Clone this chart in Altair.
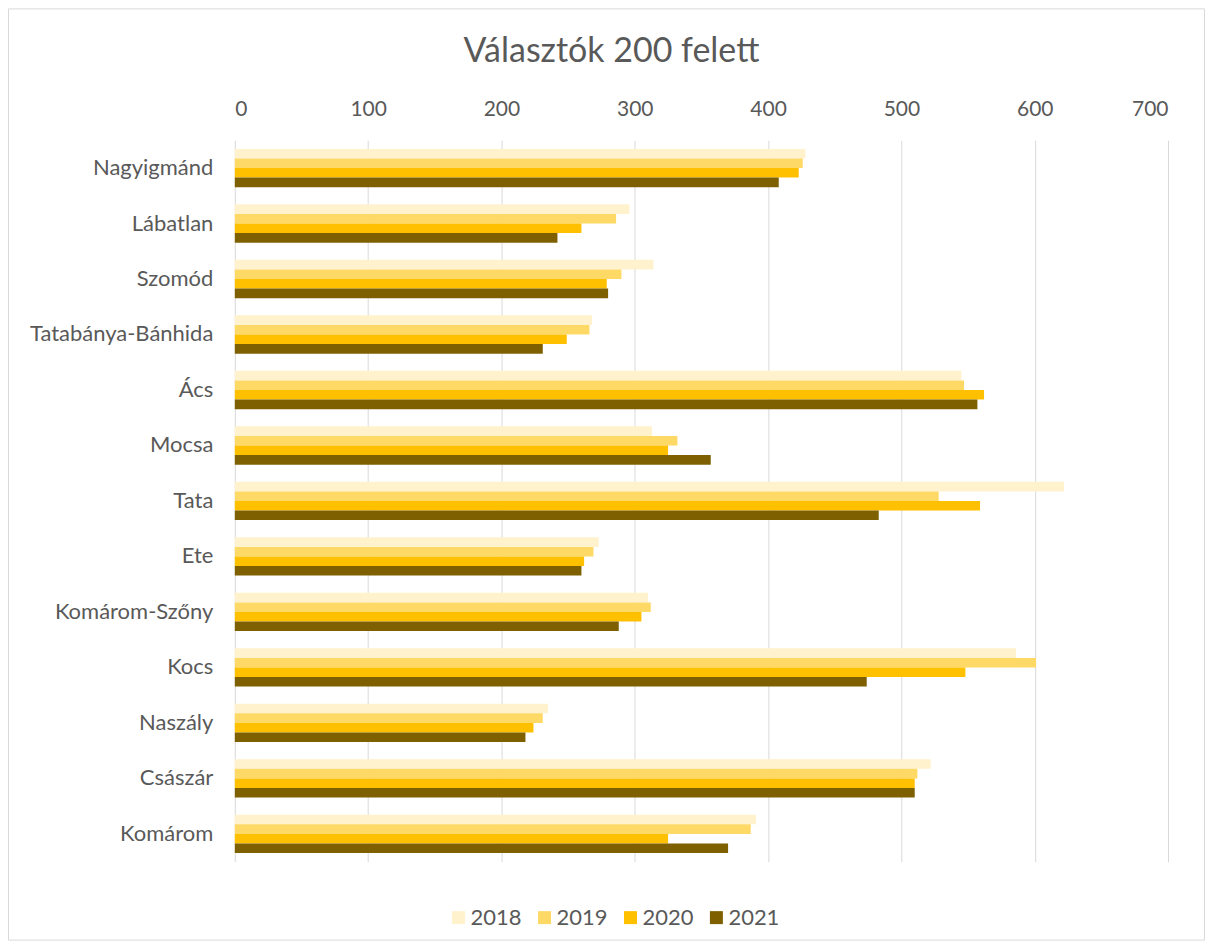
import altair as alt
import pandas as pd

categories = ["Nagyigmánd", "Lábatlan", "Szomód", "Tatabánya-Bánhida", "Ács", "Mocsa",
              "Tata", "Ete", "Komárom-Szőny", "Kocs", "Naszály", "Császár", "Komárom"]
years = ["2018", "2019", "2020", "2021"]
v2018 = [428, 296, 314, 268, 545, 313, 622, 273, 310, 586, 235, 522, 391]
v2019 = [426, 286, 290, 266, 547, 332, 528, 269, 312, 601, 231, 512, 387]
v2020 = [423, 260, 279, 249, 562, 325, 559, 262, 305, 548, 224, 510, 325]
v2021 = [408, 242, 280, 231, 557, 357, 483, 260, 288, 474, 218, 510, 370]
colors = ["#FFF2CC", "#FFD966", "#FFC000", "#7F6000"]
x_ticks = [0, 100, 200, 300, 400, 500, 600, 700]
title_text = ["Választók 200 felett"]

rows = []
for yr, vals in zip(years, [v2018, v2019, v2020, v2021]):
    for c, v in zip(categories, vals):
        rows.append({"Település": c, "Év": yr, "Választók": v})
df = pd.DataFrame(rows)

FONT = "Lato"
TXT = "#595959"

bars = alt.Chart(df).mark_bar().encode(
    y=alt.Y("Település:N", sort=categories,
            scale=alt.Scale(paddingInner=0.31, paddingOuter=0.155),
            axis=alt.Axis(title=None, ticks=False, tickSize=0, domain=False,
                          labelPadding=22, labelFontSize=22, labelFont=FONT,
                          labelColor=TXT, grid=False, labelLimit=400)),
    yOffset=alt.YOffset("Év:N", sort=years),
    x=alt.X("Választók:Q", scale=alt.Scale(domain=[0, 700], nice=False),
            axis=alt.Axis(title=None, orient="top", values=x_ticks, ticks=False,
                          tickSize=0, domain=False, labelPadding=21,
                          labelFontSize=21, labelFont=FONT, labelColor=TXT,
                          grid=True, gridColor="#D9D9D9", gridWidth=1)),
    color=alt.Color("Év:N", scale=alt.Scale(domain=years, range=colors),
                    legend=alt.Legend(title=None, orient="none", legendX=213,
                                      legendY=767, direction="horizontal",
                                      symbolType="square", symbolSize=169,
                                      symbolStrokeWidth=0, labelFontSize=22,
                                      labelFont=FONT, labelColor=TXT,
                                      labelOffset=1, columnPadding=11)),
)

border = alt.Chart(pd.DataFrame({"k": [0]})).mark_rect(
    fill=None, stroke="#D9D9D9", strokeWidth=1
).encode(
    x=alt.value(-226.5), x2=alt.value(970.5),
    y=alt.value(-131.5), y2=alt.value(800.5)
)

title = alt.Chart(pd.DataFrame({"t": title_text})).mark_text(
    font=FONT, fontSize=34, color=TXT, align="center", baseline="middle"
).encode(
    text="t:N", x=alt.value(377), y=alt.value(-88)
)

chart = alt.layer(border, bars, title).properties(
    width=934, height=722,
    padding={"left": 227, "top": 132, "right": 37, "bottom": 79},
    autosize=alt.AutoSizeParams(type="none"),
    background="white",
).configure_view(stroke=None)

chart.save("out.html", embed_options={"renderer": "svg", "actions": False})
